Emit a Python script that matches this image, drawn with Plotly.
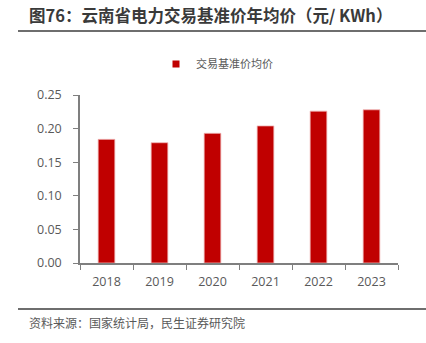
import plotly.graph_objects as go

# Annual average benchmark trading price, Yunnan power market (yuan/kWh)
years = ["2018", "2019", "2020", "2021", "2022", "2023"]
prices = [0.184, 0.179, 0.193, 0.204, 0.226, 0.228]
series_name = "交易基准价均价"
y_ticks = [0.00, 0.05, 0.10, 0.15, 0.20, 0.25]

W, H = 426, 343
L, R, T, B = 80, 28, 95, 80          # plot area margins in px
PW, PH = W - L - R, H - T - B

def px_x(px):
    return (px - L) / PW

def px_y(py):
    return (H - B - py) / PH

CJK = "Open Sans, Noto Sans CJK SC, sans-serif"
RED = "#C00000"
GREY_TXT = "#595959"

fig = go.Figure()
fig.add_trace(go.Bar(
    x=years, y=prices, width=0.315,
    marker=dict(color=RED, line=dict(color="#f0b8b8", width=0.8)),
    showlegend=False, name=series_name,
))
# legend swatch (small square)
fig.add_trace(go.Scatter(
    x=[None], y=[None], mode="markers", name=series_name,
    marker=dict(symbol="square", size=7, color=RED),
))

fig.update_layout(
    width=W, height=H, autosize=False,
    margin=dict(l=L, r=R, t=T, b=B),
    paper_bgcolor="white", plot_bgcolor="white",
    font=dict(family=CJK, size=12.5, color=GREY_TXT),
    showlegend=True,
    legend=dict(orientation="h", x=px_x(156), xanchor="left",
                y=px_y(64), yanchor="middle",
                font=dict(family="Noto Sans CJK SC, sans-serif", size=11, color=GREY_TXT),
                itemwidth=30, bgcolor="rgba(0,0,0,0)"),
)
fig.update_xaxes(
    type="category", range=[-0.5, 5.5], tickson="boundaries",
    ticks="outside", ticklen=5, tickcolor="#7f7f7f", tickwidth=1,
    showline=True, linecolor="#7f7f7f", linewidth=1.5,
    showgrid=False, zeroline=False, ticklabelstandoff=6,
    tickfont=dict(size=12.5, color=GREY_TXT),
)
fig.update_yaxes(
    range=[0, 0.25], tickvals=y_ticks, tickformat=".2f",
    ticks="outside", ticklen=5, tickcolor="#7f7f7f", tickwidth=1,
    showline=True, linecolor="#7f7f7f", linewidth=1.5,
    showgrid=False, zeroline=False, ticklabelstandoff=9,
    tickfont=dict(size=12.5, color=GREY_TXT),
)

# title and source notes
fig.add_annotation(
    text="<b>图76：云南省电力交易基准价年均价（元/ KWh）</b>",
    xref="paper", yref="paper", x=px_x(27), y=px_y(15),
    xanchor="left", yanchor="middle", showarrow=False,
    font=dict(family="Noto Sans CJK SC, sans-serif", size=16.5, color="#3a3a3a"),
)
fig.add_annotation(
    text="资料来源：国家统计局，民生证券研究院",
    xref="paper", yref="paper", x=px_x(27), y=px_y(322),
    xanchor="left", yanchor="middle", showarrow=False,
    font=dict(family="Noto Sans CJK SC, sans-serif", size=12, color=GREY_TXT),
)
for yy in (31, 309):
    fig.add_shape(type="line", xref="paper", yref="paper",
                  x0=px_x(18), x1=px_x(426), y0=px_y(yy), y1=px_y(yy),
                  line=dict(color="#6e6e6e", width=2))

fig.write_html("out.html")
